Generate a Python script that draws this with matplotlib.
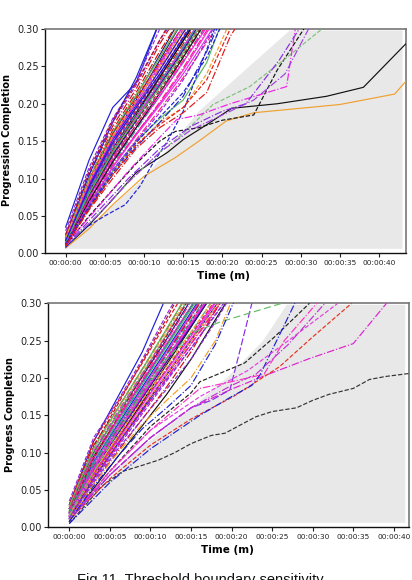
import matplotlib
matplotlib.use('Agg')
import matplotlib.pyplot as plt

# ---------------- data ----------------
T_GRID = [0, 3, 6, 9, 12, 15, 18, 21, 24]

XTICK_SECONDS = [0, 5, 10, 15, 20, 25, 30, 35, 40]
XTICK_LABELS = ['00:00:00', '00:00:05', '00:00:10', '00:00:15', '00:00:20',
                '00:00:25', '00:00:30', '00:00:35', '00:00:40']
YTICKS = [0.00, 0.05, 0.10, 0.15, 0.20, 0.25, 0.30]

TOP_YLABEL = 'Progression Completion'
BOTTOM_YLABEL = 'Progress Completion'
XLABEL = 'Time (m)'
CAPTION = 'Fig.11. Threshold boundary sensitivity'

# top panel: main bundle values on T_GRID
TOP_BUNDLE = [
    [0.035, 0.125, 0.195, 0.228, 0.310],
    [0.030, 0.115, 0.180, 0.230, 0.300, 0.340],
    [0.025, 0.105, 0.170, 0.220, 0.280, 0.330],
    [0.020, 0.095, 0.160, 0.210, 0.265, 0.320],
    [0.020, 0.090, 0.150, 0.200, 0.255, 0.305],
    [0.018, 0.085, 0.145, 0.195, 0.245, 0.295, 0.340],
    [0.015, 0.080, 0.135, 0.185, 0.235, 0.285, 0.335],
    [0.015, 0.075, 0.130, 0.180, 0.228, 0.275, 0.325],
    [0.012, 0.070, 0.125, 0.172, 0.218, 0.265, 0.315],
    [0.012, 0.068, 0.120, 0.165, 0.210, 0.255, 0.305],
    [0.010, 0.065, 0.115, 0.160, 0.200, 0.245, 0.295, 0.340],
    [0.010, 0.062, 0.110, 0.152, 0.192, 0.235, 0.282, 0.330],
    [0.010, 0.060, 0.105, 0.145, 0.175, 0.195, 0.240, 0.310],
    [0.012, 0.062, 0.110, 0.150, 0.180, 0.205, 0.255, 0.340],
    [0.022, 0.105, 0.175, 0.235, 0.310],
    [0.025, 0.110, 0.175, 0.225, 0.285, 0.330],
    [0.020, 0.100, 0.165, 0.215, 0.270, 0.320],
    [0.018, 0.092, 0.155, 0.205, 0.258, 0.312],
    [0.018, 0.088, 0.150, 0.202, 0.250, 0.300, 0.340],
    [0.016, 0.085, 0.145, 0.192, 0.240, 0.290, 0.340],
    [0.016, 0.082, 0.140, 0.188, 0.236, 0.284, 0.332],
    [0.014, 0.078, 0.135, 0.182, 0.228, 0.276, 0.325],
    [0.014, 0.076, 0.130, 0.176, 0.222, 0.270, 0.318],
    [0.013, 0.074, 0.128, 0.172, 0.216, 0.262, 0.310],
    [0.013, 0.072, 0.124, 0.168, 0.210, 0.256, 0.302],
    [0.012, 0.068, 0.118, 0.160, 0.202, 0.248, 0.298, 0.340],
    [0.020, 0.095, 0.158, 0.210, 0.262, 0.315],
    [0.022, 0.100, 0.162, 0.212, 0.262, 0.312],
    [0.018, 0.090, 0.152, 0.198, 0.245, 0.295, 0.340],
    [0.015, 0.084, 0.142, 0.190, 0.238, 0.288, 0.338],
    [0.015, 0.080, 0.138, 0.185, 0.232, 0.280, 0.330],
    [0.014, 0.078, 0.132, 0.178, 0.225, 0.272, 0.322],
    [0.017, 0.086, 0.146, 0.196, 0.248, 0.300, 0.340],
    [0.020, 0.098, 0.160, 0.208, 0.255, 0.305],
    [0.012, 0.070, 0.122, 0.168, 0.214, 0.262, 0.312],
    [0.011, 0.066, 0.115, 0.158, 0.198, 0.240, 0.288, 0.340],
    [0.024, 0.110, 0.178, 0.228, 0.285, 0.340],
    [0.016, 0.083, 0.140, 0.186, 0.230, 0.276, 0.324],
    [0.019, 0.094, 0.154, 0.202, 0.252, 0.304],
    [0.013, 0.075, 0.128, 0.172, 0.214, 0.258, 0.306],
    [0.021, 0.097, 0.156, 0.204, 0.250, 0.298, 0.340],
    [0.015, 0.080, 0.135, 0.180, 0.222, 0.268, 0.318],
    [0.017, 0.088, 0.148, 0.195, 0.240, 0.288, 0.336],
    [0.012, 0.064, 0.112, 0.150, 0.188, 0.232, 0.285, 0.340],
]

# top panel: separate long runs (time, value)
TOP_EXTRA_T = [
    [0, 3, 6, 9, 13, 15, 18, 21.2, 27, 33.3, 38, 43.4],
    [0, 3, 6, 10, 14, 17, 20.5, 24, 30, 35, 42, 43.4],
    [0, 3, 6, 9, 12, 14, 17, 20, 24, 27, 30.4],
    [0, 2.5, 5, 7.6, 9.5, 11, 13, 15, 17, 19],
    [0, 4, 8, 12, 15, 18.8, 23.5, 28, 32.7],
    [0, 4, 8, 12, 14.2, 17, 21, 28.2, 29.3],
    [0, 4, 8, 12, 16, 20, 23, 27.3, 29.8],
    [0, 4, 8, 12, 16, 20, 24, 28, 31],
    [0, 3, 6, 9, 12, 15, 18, 21],
    [0, 3, 6, 9, 12, 15, 18, 21],
    [0, 3, 6, 9, 12, 15, 18, 21, 24],
    [0, 3, 6, 9, 12, 15, 18, 21],
]
TOP_EXTRA_V = [
    [0.008, 0.038, 0.072, 0.108, 0.135, 0.152, 0.172, 0.194, 0.200, 0.210, 0.222, 0.280],
    [0.007, 0.033, 0.065, 0.103, 0.128, 0.150, 0.177, 0.188, 0.194, 0.199, 0.213, 0.230],
    [0.010, 0.050, 0.085, 0.120, 0.150, 0.163, 0.168, 0.178, 0.185, 0.245, 0.300],
    [0.008, 0.034, 0.050, 0.065, 0.090, 0.118, 0.150, 0.190, 0.245, 0.300],
    [0.010, 0.050, 0.095, 0.135, 0.160, 0.199, 0.223, 0.260, 0.300],
    [0.012, 0.060, 0.110, 0.155, 0.179, 0.185, 0.200, 0.223, 0.300],
    [0.010, 0.055, 0.100, 0.140, 0.170, 0.190, 0.200, 0.259, 0.300],
    [0.010, 0.050, 0.095, 0.135, 0.165, 0.185, 0.205, 0.240, 0.300],
    [0.012, 0.062, 0.108, 0.148, 0.182, 0.215, 0.262, 0.330],
    [0.012, 0.060, 0.105, 0.142, 0.175, 0.210, 0.270, 0.340],
    [0.010, 0.058, 0.100, 0.140, 0.168, 0.188, 0.215, 0.290, 0.340],
    [0.010, 0.060, 0.105, 0.145, 0.172, 0.195, 0.232, 0.300],
]

TOP_GREY_T = [0, 0, 10, 17, 28.6, 43.0, 43.0]
TOP_GREY_V = [0.006, 0.010, 0.100, 0.190, 0.298, 0.298, 0.006]

# bottom panel: main bundle values on T_GRID
BOTTOM_BUNDLE = [
    [0.030, 0.115, 0.175, 0.235, 0.310],
    [0.035, 0.120, 0.170, 0.225, 0.285, 0.340],
    [0.030, 0.110, 0.160, 0.212, 0.265, 0.320],
    [0.025, 0.100, 0.152, 0.202, 0.252, 0.305],
    [0.020, 0.080, 0.130, 0.180, 0.232, 0.284, 0.336],
    [0.018, 0.072, 0.122, 0.172, 0.222, 0.272, 0.322],
    [0.025, 0.095, 0.145, 0.195, 0.245, 0.295, 0.345],
    [0.020, 0.085, 0.135, 0.185, 0.235, 0.285, 0.335],
    [0.018, 0.078, 0.128, 0.178, 0.226, 0.276, 0.326],
    [0.015, 0.070, 0.118, 0.165, 0.212, 0.260, 0.310],
    [0.015, 0.068, 0.115, 0.160, 0.206, 0.252, 0.300, 0.340],
    [0.014, 0.066, 0.112, 0.156, 0.200, 0.245, 0.290, 0.340],
    [0.028, 0.105, 0.158, 0.210, 0.262, 0.315],
    [0.022, 0.092, 0.142, 0.192, 0.242, 0.292, 0.342],
    [0.020, 0.088, 0.138, 0.188, 0.238, 0.288, 0.338],
    [0.010, 0.062, 0.108, 0.152, 0.196, 0.240, 0.285, 0.330],
    [0.010, 0.058, 0.102, 0.145, 0.188, 0.235, 0.290, 0.340],
    [0.012, 0.065, 0.112, 0.158, 0.204, 0.250, 0.296, 0.340],
    [0.018, 0.082, 0.132, 0.182, 0.232, 0.282, 0.332],
    [0.015, 0.072, 0.120, 0.166, 0.212, 0.258, 0.304],
    [0.012, 0.068, 0.118, 0.168, 0.218, 0.268, 0.318],
    [0.020, 0.092, 0.145, 0.196, 0.246, 0.296, 0.346],
    [0.025, 0.108, 0.165, 0.222, 0.280, 0.340],
    [0.020, 0.088, 0.140, 0.192, 0.244, 0.296, 0.348],
    [0.015, 0.070, 0.118, 0.164, 0.210, 0.256, 0.302],
    [0.012, 0.064, 0.110, 0.155, 0.200, 0.246, 0.292, 0.340],
    [0.015, 0.068, 0.115, 0.160, 0.205, 0.250, 0.295, 0.340],
    [0.022, 0.098, 0.152, 0.205, 0.258, 0.312],
    [0.015, 0.076, 0.126, 0.174, 0.222, 0.270, 0.318],
    [0.012, 0.066, 0.112, 0.156, 0.198, 0.240, 0.284, 0.330],
    [0.020, 0.082, 0.132, 0.182, 0.232, 0.282, 0.332],
    [0.018, 0.078, 0.126, 0.174, 0.222, 0.270, 0.318],
    [0.025, 0.102, 0.155, 0.206, 0.258, 0.310],
    [0.030, 0.115, 0.168, 0.220, 0.275, 0.330],
    [0.008, 0.052, 0.095, 0.136, 0.178, 0.225, 0.278, 0.330],
    [0.018, 0.080, 0.130, 0.178, 0.226, 0.274, 0.322],
    [0.020, 0.092, 0.148, 0.202, 0.256, 0.310],
    [0.020, 0.084, 0.134, 0.182, 0.230, 0.278, 0.326],
    [0.015, 0.078, 0.128, 0.176, 0.224, 0.272, 0.320],
    [0.024, 0.096, 0.148, 0.198, 0.250, 0.302],
    [0.016, 0.074, 0.122, 0.170, 0.216, 0.262, 0.308],
    [0.028, 0.106, 0.160, 0.212, 0.266, 0.320],
]

BOTTOM_EXTRA_T = [
    [0, 2, 4, 6.6, 9, 11, 13, 15, 17.5, 19.2, 21.6, 23, 25, 28, 30, 32, 35, 37, 39, 41.9],
    [0, 5, 10, 15, 16.1, 21.6, 25.3, 29.6],
    [0, 5, 10, 15, 20, 24.3, 29.6, 35, 39.1],
    [0, 5, 10, 15, 20.2, 25.9, 30, 34.8],
    [0, 5, 10, 16.1, 20, 22.5, 23.5, 27.8],
    [0, 5, 10, 15, 17.5, 19.8, 22.5],
    [0, 5, 10, 16.1, 22, 27, 33.1],
    [0, 3, 6, 9, 12, 15, 18.6, 26.2],
    [0, 5, 10, 16.1, 20, 24, 26.5, 30.5],
    [0, 5, 10, 15, 20, 23, 27, 31.5],
    [0, 3, 6, 9, 12, 15, 18, 21],
    [0, 3, 6, 9, 12, 15, 18, 21],
    [0, 3, 6, 9, 12, 15, 18, 21],
]
BOTTOM_EXTRA_V = [
    [0.005, 0.030, 0.055, 0.075, 0.083, 0.090, 0.100, 0.112, 0.123, 0.126, 0.140,
     0.148, 0.155, 0.160, 0.170, 0.178, 0.186, 0.198, 0.202, 0.206],
    [0.010, 0.075, 0.135, 0.180, 0.195, 0.220, 0.255, 0.300],
    [0.010, 0.070, 0.120, 0.160, 0.185, 0.204, 0.226, 0.246, 0.300],
    [0.010, 0.065, 0.110, 0.145, 0.175, 0.215, 0.255, 0.300],
    [0.005, 0.060, 0.105, 0.150, 0.175, 0.190, 0.204, 0.300],
    [0.010, 0.070, 0.120, 0.160, 0.170, 0.184, 0.300],
    [0.010, 0.075, 0.130, 0.175, 0.210, 0.250, 0.300],
    [0.015, 0.075, 0.128, 0.180, 0.225, 0.260, 0.275, 0.300],
    [0.012, 0.075, 0.130, 0.186, 0.195, 0.205, 0.250, 0.300],
    [0.012, 0.070, 0.120, 0.160, 0.190, 0.205, 0.245, 0.300],
    [0.010, 0.058, 0.100, 0.138, 0.170, 0.200, 0.250, 0.330],
    [0.008, 0.055, 0.095, 0.132, 0.160, 0.190, 0.245, 0.320],
    [0.012, 0.060, 0.105, 0.145, 0.185, 0.225, 0.275, 0.330],
]

BOTTOM_GREY_T = [0, 0, 8, 14, 19.4, 23.9, 26.8, 41.4, 41.4]
BOTTOM_GREY_V = [0.006, 0.010, 0.100, 0.150, 0.200, 0.250, 0.298, 0.298, 0.006]

# ---------------- styles ----------------
PALETTE = ['#1f1fd6', '#e8141e', '#f020e8', '#8a2be2', '#111111', '#ff1a8c',
           '#d01010', '#e030e0', '#f0a030', '#1a1a8c', '#b0102a', '#5cb85c',
           '#c040c0', '#2aa198']
STYLES = ['-', '--', '-.', '-', '-.', '--', '-']

TOP_EXTRA_COLORS = ['#111111', '#f0a030', '#111111', '#1f1fd6', '#7fbf7f',
                    '#f020e8', '#8a2be2', '#a040e0', '#2020d0', '#2020d0',
                    '#e01818', '#e01818']
TOP_EXTRA_STYLES = ['-', '-', '--', '--', '--', '-.', '-.', '-.', '--', '-.',
                    '-.', '--']
BOTTOM_EXTRA_COLORS = ['#333333', '#222222', '#e020d0', '#e83020', '#1f1fd6',
                       '#8a2be2', '#e040e0', '#66bb66', '#ff30c0', '#c030d0',
                       '#f0a020', '#1f1fd6', '#8a2be2']
BOTTOM_EXTRA_STYLES = ['--', '--', '-.', '--', '-.', (0, (6, 2)), '--', (0, (6, 3)),
                       '-.', '-.', '-.', '-.', '--']

GREY = '#e8e8e8'
LW = 0.85


def draw_panel(ax, bundle, extra_t, extra_v, extra_colors, extra_styles,
               grey_t, grey_v, xlim, ylabel):
    ax.fill(grey_t, grey_v, color=GREY, lw=0, zorder=0)
    for i, vals in enumerate(bundle):
        ax.plot(T_GRID[:len(vals)], vals, color=PALETTE[(i * 3) % len(PALETTE)],
                ls=STYLES[i % len(STYLES)], lw=LW, zorder=2)
    for t, v, c, s in zip(extra_t, extra_v, extra_colors, extra_styles):
        ax.plot(t, v, color=c, ls=s, lw=LW, zorder=3)
    ax.set_xlim(*xlim)
    ax.set_ylim(0, 0.30)
    ax.set_xticks(XTICK_SECONDS)
    ax.set_xticklabels(XTICK_LABELS, fontsize=5.3)
    ax.set_yticks(YTICKS)
    ax.set_yticklabels(['%.2f' % y for y in YTICKS], fontsize=7)
    ax.tick_params(axis='both', direction='out', length=3, width=0.8, pad=1.5,
                   colors='#222222')
    for side in ['left', 'bottom']:
        ax.spines[side].set_color('#111111')
        ax.spines[side].set_linewidth(1.0)
    for side in ['top', 'right']:
        ax.spines[side].set_color('#777777')
        ax.spines[side].set_linewidth(1.2)
    ax.set_ylabel(ylabel, fontsize=7, fontweight='bold')
    ax.set_xlabel(XLABEL, fontsize=7.5, fontweight='bold')
    ax.yaxis.set_label_coords(-0.092, 0.505)
    ax.xaxis.set_label_coords(0.495, -0.079)


fig = plt.figure(figsize=(4.12, 5.80), dpi=100)
ax1 = fig.add_axes([0.1092, 0.5633, 0.8755, 0.3867])
ax2 = fig.add_axes([0.1172, 0.0909, 0.8762, 0.3862])

draw_panel(ax1, TOP_BUNDLE, TOP_EXTRA_T, TOP_EXTRA_V, TOP_EXTRA_COLORS,
           TOP_EXTRA_STYLES, TOP_GREY_T, TOP_GREY_V, (-2.64, 43.4), TOP_YLABEL)
draw_panel(ax2, BOTTOM_BUNDLE, BOTTOM_EXTRA_T, BOTTOM_EXTRA_V, BOTTOM_EXTRA_COLORS,
           BOTTOM_EXTRA_STYLES, BOTTOM_GREY_T, BOTTOM_GREY_V, (-2.59, 41.9),
           BOTTOM_YLABEL)

fig.text(0.485, 0.0125, CAPTION, ha='center', va='top', fontsize=10.5,
         family='Liberation Sans', color='#111111')

fig.savefig('out.png', dpi=100)
